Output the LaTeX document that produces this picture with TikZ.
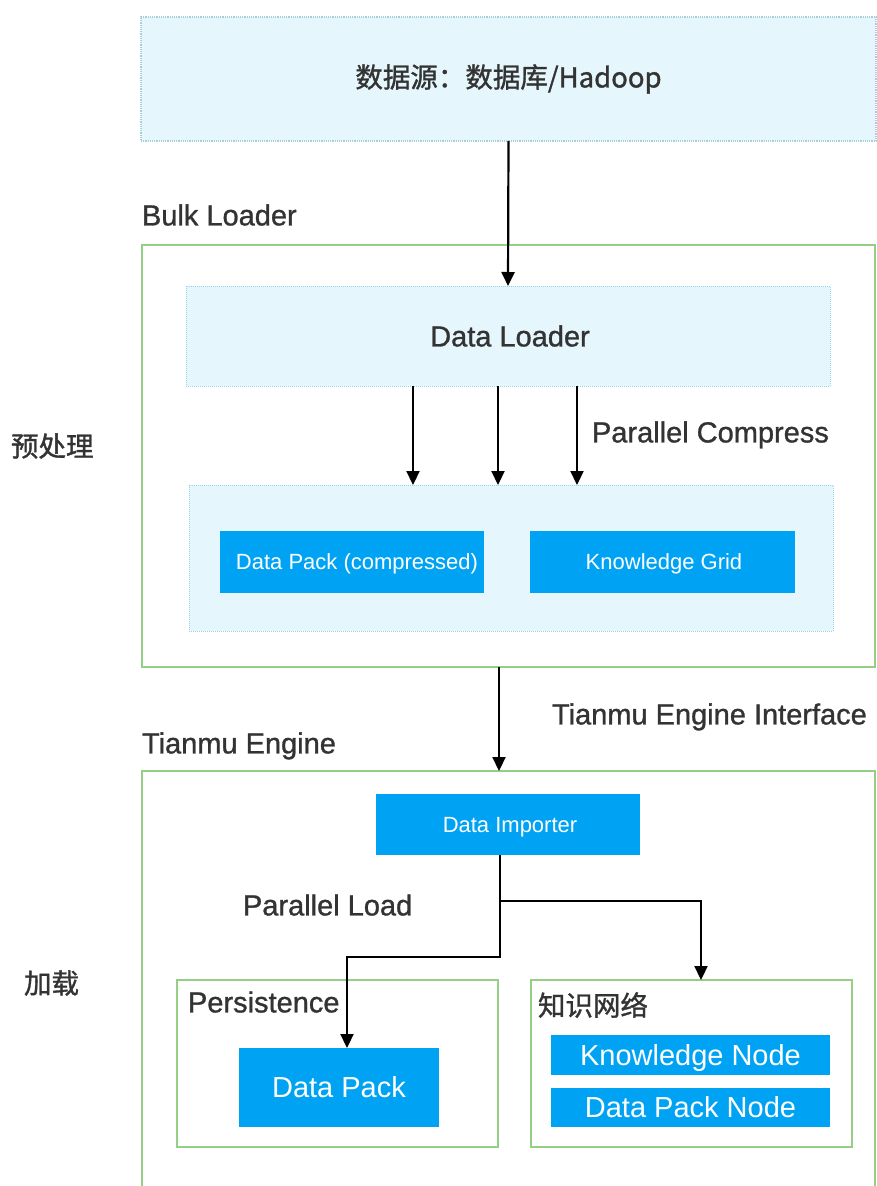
\documentclass[tikz,border=0pt]{standalone}
\usepackage{fontspec}
\setmainfont{Liberation Sans}
\newfontfamily\med{Liberation Sans}[FakeBold=1.0]
\newfontfamily\cjk{Noto Sans CJK SC}[FakeBold=1.2]
\usetikzlibrary{arrows.meta}
\definecolor{txt}{HTML}{333333}
\definecolor{lightfill}{HTML}{E6F6FD}
\definecolor{lightline}{HTML}{9BD3EA}
\definecolor{topline}{HTML}{A9CEDB}
\definecolor{bluefill}{HTML}{00A3F3}
\definecolor{grn}{HTML}{93CF85}
\begin{document}
\begin{tikzpicture}[x=1pt,y=-1pt,
  every node/.style={inner sep=0pt,outer sep=0pt,text=txt},
  big/.style={font=\med\fontsize{29}{34}\selectfont,text height=20.8pt,text depth=0pt},
  bigw/.style={font=\fontsize{29}{34}\selectfont,text height=20.8pt,text depth=0pt},
  small/.style={font=\fontsize{22}{26}\selectfont,text height=15.8pt,text depth=0pt},
  cjkbig/.style={font=\cjk\fontsize{27.5}{32}\selectfont},
  lightbox/.style={draw=lightline,fill=lightfill,densely dotted,line width=1pt},
  topbox/.style={draw=topline,fill=lightfill,densely dotted,line width=1.2pt},
  groupbox/.style={draw=grn,line width=2pt},
  bluebox/.style={fill=bluefill,text=white},
  arr/.style={line width=2.2pt,-{Triangle[width=13pt,length=14pt]}},
  lab/.style={anchor=west}]
\useasboundingbox (0,0) rectangle (877,1186);
\begin{scope}
\clip (0,0) rectangle (877,1186);
% top source box
\node[topbox,cjkbig,minimum width=735pt,minimum height=124pt] (src) at (508.5,79) {数据源：数据库/Hadoop};
\node[big,lab] (bulklab) at (142,215) {Bulk Loader};
\node[groupbox,minimum width=733pt,minimum height=422pt] (bulk) at (508.5,456) {};
\node[lightbox,big,minimum width=644pt,minimum height=100pt] (loader) at (508,336) {\hspace*{4pt}Data Loader};
\node[lightbox,minimum width=644pt,minimum height=146pt] (inner) at (511,558) {};
\node[bluebox,small,minimum width=264pt,minimum height=62pt] (dpc) at (352,562) {\hspace*{10pt}Data Pack (compressed)};
\node[bluebox,small,minimum width=265pt,minimum height=62pt] (kg) at (662.5,562) {\hspace*{3pt}Knowledge Grid};
\node[big,lab] (pclab) at (592,432) {Parallel Compress};
\node[big,lab] (tilab) at (552,714) {Tianmu Engine Interface};
\node[big,lab] (telab) at (142,743) {Tianmu Engine};
\node[groupbox,minimum width=733pt,minimum height=430pt] (tianmu) at (508.5,986) {};
\node[bluebox,small,minimum width=264pt,minimum height=61pt] (imp) at (508,824.5) {\hspace*{4pt}Data Importer};
\node[big,lab] (pllab) at (243,905) {Parallel Load};
\node[groupbox,minimum width=321pt,minimum height=167pt] (pers) at (337.5,1063.5) {};
\node[big,lab] (perslab) at (188,1002) {Persistence};
\node[bluebox,bigw,minimum width=200pt,minimum height=79pt] (dp) at (339,1087.5) {Data Pack};
\node[groupbox,minimum width=321pt,minimum height=167pt] (kn) at (691.5,1063.5) {};
\node[cjkbig,lab] (knlab) at (538,1005) {知识网络};
\node[bluebox,bigw,minimum width=279pt,minimum height=40pt] (knode) at (690.5,1055) {Knowledge Node};
\node[bluebox,bigw,minimum width=279pt,minimum height=39pt] (dpnode) at (690.5,1107.5) {Data Pack Node};
\node[cjkbig,lab] (pre) at (11,446) {预处理};
\node[cjkbig,lab] (load) at (24,983) {加载};
% connectors
\coordinate (c1) at (413,0);
\coordinate (c2) at (498,0);
\coordinate (c3) at (577,0);
\coordinate (c4) at (499,0);
\coordinate (c5) at (500,0);
\coordinate (fork) at (500,901);
\coordinate (bendA) at (500,957);
\coordinate (bendB) at (347,957);
\coordinate (bendC) at (701,901);
\draw[arr] (src.south) -- (loader.north);
\draw[arr] (loader.south -| c1) -- (inner.north -| c1);
\draw[arr] (loader.south -| c2) -- (inner.north -| c2);
\draw[arr] (loader.south -| c3) -- (inner.north -| c3);
\draw[arr] (bulk.south -| c4) -- (tianmu.north -| c4);
\draw[arr] (imp.south -| c5) -- (bendA) -- (bendB) -- (dp.north -| bendB);
\draw[arr] (fork) -- (bendC) -- (kn.north -| bendC);
\end{scope}
\end{tikzpicture}
\end{document}
